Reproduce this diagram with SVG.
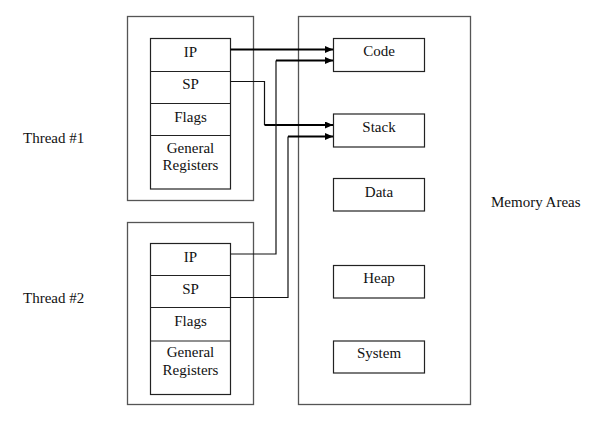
<svg xmlns="http://www.w3.org/2000/svg" width="597" height="433" viewBox="0 0 597 433">
<defs>
<style>
.outer{fill:none;stroke:#555;stroke-width:1.3}
.box{fill:#fff;stroke:#222;stroke-width:1.2}
.t{font-family:"Liberation Serif","Times New Roman",serif;font-size:15px;fill:#111}
.c{text-anchor:middle}
.thin{fill:none;stroke:#111;stroke-width:1.2}
.thick{fill:none;stroke:#000;stroke-width:2.2}
</style>
<marker id="ah" viewBox="0 0 8 7" refX="8" refY="3.5" markerWidth="8" markerHeight="7" markerUnits="userSpaceOnUse" orient="auto">
<path d="M0,0 L8,3.5 L0,7 Z" fill="#000"/>
</marker>
</defs>
<rect width="597" height="433" fill="#fff"/>

<g id="thread1">
<rect class="outer" x="127.5" y="16.5" width="126" height="184"/>
<rect class="box" x="150.5" y="38.5" width="80" height="150.5"/>
<line class="box" x1="150.5" y1="71.5" x2="230.5" y2="71.5"/>
<line class="box" x1="150.5" y1="103.5" x2="230.5" y2="103.5"/>
<line class="box" x1="150.5" y1="135.5" x2="230.5" y2="135.5"/>
<text class="t c" x="190.5" y="57">IP</text>
<text class="t c" x="190.5" y="89">SP</text>
<text class="t c" x="190.5" y="121.5">Flags</text>
<text class="t c" x="190.5" y="152.5">General</text>
<text class="t c" x="190.5" y="170">Registers</text>
</g>
<text class="t" x="23" y="143">Thread #1</text>

<g id="thread2">
<rect class="outer" x="127.5" y="222.5" width="126" height="182"/>
<rect class="box" x="150.5" y="243.5" width="80" height="151"/>
<line class="box" x1="150.5" y1="275.5" x2="230.5" y2="275.5"/>
<line class="box" x1="150.5" y1="307.5" x2="230.5" y2="307.5"/>
<line class="box" x1="150.5" y1="341" x2="230.5" y2="341"/>
<text class="t c" x="190.5" y="261.5">IP</text>
<text class="t c" x="190.5" y="294">SP</text>
<text class="t c" x="190.5" y="326">Flags</text>
<text class="t c" x="190.5" y="357">General</text>
<text class="t c" x="190.5" y="375">Registers</text>
</g>
<text class="t" x="23" y="303">Thread #2</text>

<g id="memory">
<rect class="outer" x="298.5" y="16.5" width="172" height="388"/>
</g>
<text class="t" x="491" y="207">Memory Areas</text>

<g id="code">
<rect class="box" x="333.5" y="38.5" width="91" height="33"/>
<text class="t c" x="379" y="56">Code</text>
</g>
<g id="stack">
<rect class="box" x="333.5" y="114" width="91" height="33"/>
<text class="t c" x="379" y="131.5">Stack</text>
</g>
<g id="data">
<rect class="box" x="333.5" y="178.5" width="91" height="32.5"/>
<text class="t c" x="379" y="196.5">Data</text>
</g>
<g id="heap">
<rect class="box" x="333.5" y="265.5" width="91" height="32.5"/>
<text class="t c" x="379" y="283">Heap</text>
</g>
<g id="system">
<rect class="box" x="333.5" y="341" width="91" height="32"/>
<text class="t c" x="379" y="358">System</text>
</g>

<g id="connectors">
<path class="thick" d="M230.5,49.5 H333" marker-end="url(#ah)"/>
<path class="thin" d="M230.5,81.5 H264.5 V125"/>
<path class="thick" d="M264.5,125 H333" marker-end="url(#ah)"/>
<path class="thin" d="M230.5,254 H276 V60.5"/>
<path class="thick" d="M276,60.5 H333" marker-end="url(#ah)"/>
<path class="thin" d="M230.5,297.5 H288 V136.5"/>
<path class="thick" d="M288,136.5 H333" marker-end="url(#ah)"/>
</g>
</svg>
